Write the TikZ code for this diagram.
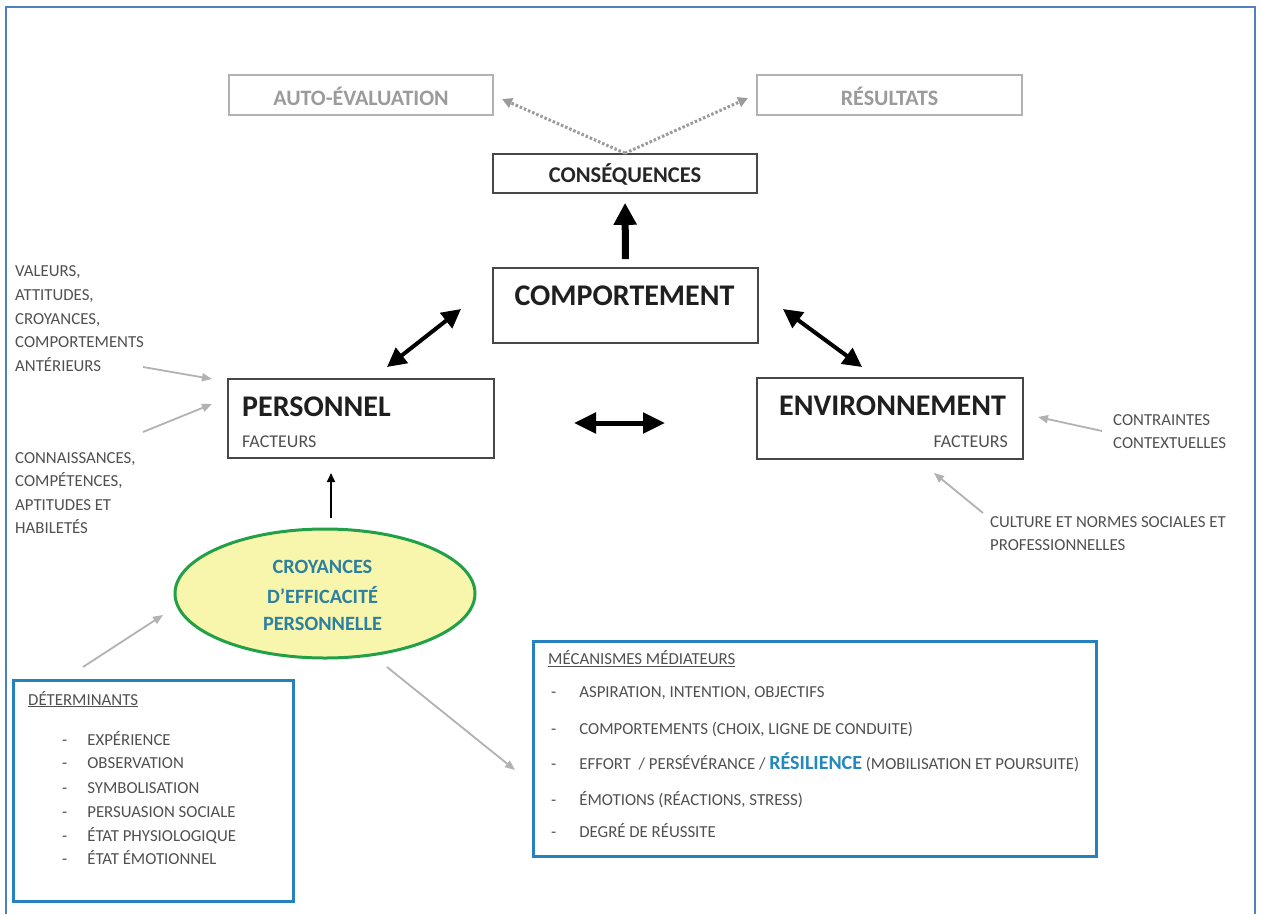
\documentclass[tikz,border=0pt]{standalone}
\usepackage{fontspec}
\setmainfont{Carlito}
\usetikzlibrary{arrows.meta,shapes.geometric}

\definecolor{framecol}{RGB}{79,129,189}
\definecolor{panelcol}{RGB}{38,130,190}
\definecolor{effcol}{RGB}{44,128,160}
\definecolor{rescol}{RGB}{36,136,190}
\definecolor{labelgray}{RGB}{80,80,80}
\definecolor{softgray}{RGB}{155,155,155}
\definecolor{linegray}{RGB}{178,178,178}
\definecolor{ellfill}{RGB}{248,246,172}
\definecolor{ellline}{RGB}{34,160,72}

\newcommand{\setfs}[2]{\fontsize{#1}{#2}\selectfont}

\begin{document}
\begin{tikzpicture}[x=1pt,y=-1pt,
  box/.style={draw=black!72, line width=1.6pt, inner sep=0pt},
  ghostbox/.style={draw=linegray, line width=2pt, inner sep=0pt},
  panel/.style={draw=panelcol, line width=3pt, inner sep=0pt},
  ghosttext/.style={anchor=base, inner sep=0pt, text=softgray, font=\bfseries\setfs{22}{26}},
  headtext/.style={inner sep=0pt, text=black!88, font=\bfseries\setfs{30}{34}},
  subtext/.style={inner sep=0pt, text=labelgray, font=\setfs{18}{22}},
  note/.style={anchor=base west, inner sep=0pt, text=labelgray, font=\setfs{16.8}{20}},
  efftext/.style={anchor=base, inner sep=0pt, text=effcol, font=\bfseries\setfs{20.3}{24}},
  feed/.style={draw=linegray, line width=1.8pt, -{Triangle[length=10pt,width=8pt]}},
  twoway/.style={line width=4pt, {Triangle[length=19pt,width=19pt]}-{Triangle[length=19pt,width=19pt]}},
  dotarrow/.style={draw=softgray, line width=3pt, dash pattern=on 2.5pt off 2pt, -{Triangle[length=10pt,width=10pt]}},
]
\useasboundingbox (0,0) rectangle (1262,914);
\fill[white] (0,0) rectangle (1262,914);

% outer frame (open at the bottom)
\draw[framecol, line width=2pt] (6,914) -- (6,7) -- (1255,7) -- (1255,914);

% ---- boxes ----
\node[ghostbox, minimum width=264pt, minimum height=40pt] (auto) at (361,95) {};
\node[ghostbox, minimum width=265pt, minimum height=40pt] (res) at (889.5,95) {};
\node[box, minimum width=264pt, minimum height=39pt] (cons) at (625,173.5) {};
\node[box, minimum width=265pt, minimum height=75pt] (comp) at (625.5,305.5) {};
\node[box, minimum width=266pt, minimum height=79pt] (pers) at (361,418.5) {};
\node[box, minimum width=266pt, minimum height=81pt] (env) at (890,418.5) {};

\node[ghosttext] (autot) at (361,105.5) {AUTO-ÉVALUATION};
\node[ghosttext] (rest) at (889.5,105.5) {RÉSULTATS};
\node[anchor=base, inner sep=0pt, text=black!85, font=\bfseries\setfs{22.5}{26}] (const) at (625,182.5) {CONSÉQUENCES};
\node[headtext, anchor=base] (compt) at (624.5,305) {COMPORTEMENT};
\node[headtext, anchor=base west] (perst) at (242,416) {PERSONNEL};
\node[subtext, anchor=base west] (persf) at (242,447) {FACTEURS};
\node[headtext, anchor=base west] (envt) at (779,415) {ENVIRONNEMENT};
\node[subtext, anchor=base east] (envf) at (1008,447) {FACTEURS};

% ---- self-efficacy ellipse ----
\node[ellipse, draw=ellline, fill=ellfill, line width=3pt, minimum width=300pt, minimum height=129pt, inner sep=0pt] (eff) at (325,593.5) {};
\node[efftext] (eff1) at (322.5,573) {CROYANCES};
\node[efftext] (eff2) at (322.5,603) {D’EFFICACITÉ};
\node[efftext] (eff3) at (322.5,630.5) {PERSONNELLE};

% ---- side notes ----
\node[note] (n1) at (15,276) {VALEURS,};
\node[note] (n2) at (15,300) {ATTITUDES,};
\node[note] (n3) at (15,324) {CROYANCES,};
\node[note] (n4) at (15,347) {COMPORTEMENTS};
\node[note] (n5) at (15,371) {ANTÉRIEURS};
\node[note] (k1) at (15,463) {CONNAISSANCES,};
\node[note] (k2) at (15,486) {COMPÉTENCES,};
\node[note] (k3) at (15,510) {APTITUDES ET};
\node[note] (k4) at (15,533) {HABILETÉS};
\node[note] (c1) at (1113,425) {CONTRAINTES};
\node[note] (c2) at (1113,448) {CONTEXTUELLES};
\node[note] (u1) at (990,527) {CULTURE ET NORMES SOCIALES ET};
\node[note] (u2) at (990,550) {PROFESSIONNELLES};

% ---- determinants panel ----
\node[panel, minimum width=280pt, minimum height=221pt] (det) at (153,790.5) {};
\node[note] (dett) at (28,705) {\underline{DÉTERMINANTS}};
\node[note] (d1) at (62,745) {-\hspace{20pt}EXPÉRIENCE};
\node[note] (d2) at (62,768) {-\hspace{20pt}OBSERVATION};
\node[note] (d3) at (62,793) {-\hspace{20pt}SYMBOLISATION};
\node[note] (d4) at (62,817) {-\hspace{20pt}PERSUASION SOCIALE};
\node[note] (d5) at (62,841) {-\hspace{20pt}ÉTAT PHYSIOLOGIQUE};
\node[note] (d6) at (62,864) {-\hspace{20pt}ÉTAT ÉMOTIONNEL};

% ---- mediating mechanisms panel ----
\node[panel, minimum width=563pt, minimum height=215pt] (med) at (814.5,748.5) {};
\node[note] (medt) at (548,664.5) {\underline{MÉCANISMES MÉDIATEURS}};
\node[note] (m1) at (551,697.5) {-\hspace{23pt}ASPIRATION, INTENTION, OBJECTIFS};
\node[note] (m2) at (551,734.5) {-\hspace{23pt}COMPORTEMENTS (CHOIX, LIGNE DE CONDUITE)};
\node[note] (m3) at (551,769) {-\hspace{23pt}EFFORT \ / PERSÉVÉRANCE / {\color{rescol}\bfseries\setfs{20}{24}RÉSILIENCE} (MOBILISATION ET POURSUITE)};
\node[note] (m4) at (551,805.5) {-\hspace{23pt}ÉMOTIONS (RÉACTIONS, STRESS)};
\node[note] (m5) at (551,837) {-\hspace{23pt}DEGRÉ DE RÉUSSITE};

% ---- connector end points ----
\coordinate (toauto) at (502,99);
\coordinate (tores) at (748,98);
\coordinate (pc1) at (387,367);
\coordinate (pc2) at (461,309);
\coordinate (ce1) at (783,309);
\coordinate (ce2) at (862,367);
\coordinate (pe1) at (574,423);
\coordinate (pe2) at (665,423);
\coordinate (effUp) at (331,518);
\coordinate (persIn) at (331,473);
\coordinate (nOut) at (143,367);
\coordinate (nIn) at (212,379);
\coordinate (kOut) at (143,432);
\coordinate (kIn) at (212,404);
\coordinate (cOut) at (1102,431);
\coordinate (cIn) at (1038,417);
\coordinate (uOut) at (983,513);
\coordinate (uIn) at (934,473);
\coordinate (detOut) at (83,667);
\coordinate (effIn) at (163,615);
\coordinate (effOut) at (387,667);
\coordinate (medIn) at (515,770);

% ---- connectors ----
\draw[dotarrow] (cons.north) -- (toauto);
\draw[dotarrow] (cons.north) -- (tores);
\draw[line width=7pt, -{Triangle[length=22pt,width=22pt]}, shorten <=8pt, shorten >=9pt] (comp.north) -- (cons.south);
\draw[twoway] (pc1) -- (pc2);
\draw[twoway] (ce1) -- (ce2);
\draw[line width=5pt, {Triangle[length=22pt,width=20pt]}-{Triangle[length=22pt,width=20pt]}] (pe1) -- (pe2);
\draw[line width=2pt, -{Triangle[length=9pt,width=8pt]}] (effUp) -- (persIn);
\draw[feed] (nOut) -- (nIn);
\draw[feed] (kOut) -- (kIn);
\draw[feed] (cOut) -- (cIn);
\draw[feed] (uOut) -- (uIn);
\draw[feed] (detOut) -- (effIn);
\draw[feed] (effOut) -- (medIn);
\end{tikzpicture}
\end{document}
